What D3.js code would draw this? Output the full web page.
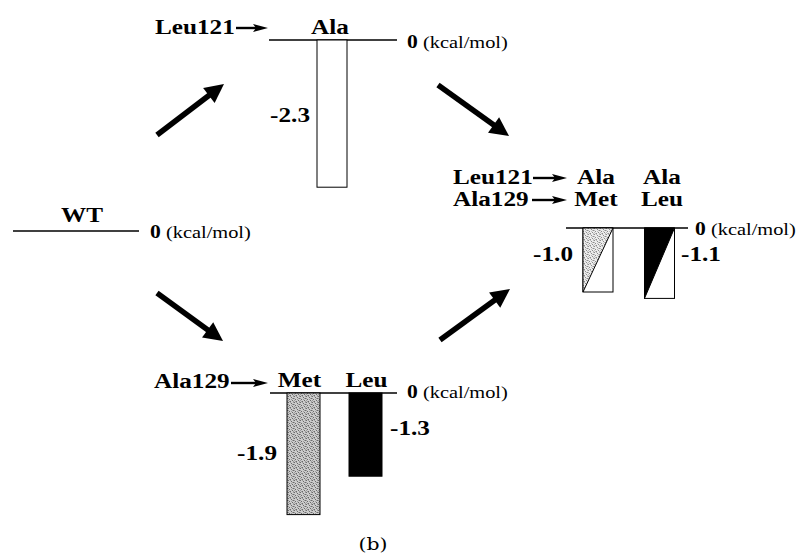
<!DOCTYPE html>
<html><head><meta charset="utf-8">
<script src="https://cdn.jsdelivr.net/npm/d3@7"></script>
<style>
body{margin:0;background:#fff;}
svg{display:block;}
</style></head>
<body>
<svg id="c" width="804" height="556"></svg>
<script>
// ---- data ----
const wtLabel = "WT";
const unitLabel = "(kcal/mol)";
const singleACategories = ["Ala"];          // Leu121 -> Ala
const singleAValues = [-2.3];
const singleBCategories = ["Met", "Leu"];   // Ala129 -> Met / Leu
const singleBValues = [-1.9, -1.3];
const doubleTop = ["Ala", "Ala"];           // Leu121 -> Ala
const doubleBottom = ["Met", "Leu"];        // Ala129 -> Met / Leu
const doubleValues = [-1.0, -1.1];
const caption = "(b)";

const SERIF = "Liberation Serif, Times New Roman, serif";
const SX = 1.2;      // horizontal stretch of the original typesetting
const LBL = 21;      // bold label size
const UNIT = 17;     // unit text size

const svg = d3.select("#c");
const defs = svg.append("defs");
const fmt = d3.formatLocale({decimal: ".", thousands: ",", grouping: [3], currency: ["", ""], minus: "-"}).format(".1f");

// stipple patterns (irregular dots)
function stipple(id, bg, dark, mid) {
  const n = 6;
  const p = defs.append("pattern").attr("id", id).attr("patternUnits", "userSpaceOnUse")
    .attr("width", n).attr("height", n);
  p.append("rect").attr("width", n).attr("height", n).attr("fill", bg);
  const darkPts = [[0,0],[3,1],[1,3],[4,4],[5,2],[2,5]];
  const midPts = [[2,0],[5,0],[0,2],[3,3],[1,5],[4,2],[0,4],[5,5]];
  darkPts.forEach(([x,y]) => p.append("rect").attr("x",x).attr("y",y).attr("width",1).attr("height",1).attr("fill",dark));
  midPts.forEach(([x,y]) => p.append("rect").attr("x",x).attr("y",y).attr("width",1).attr("height",1).attr("fill",mid));
}
stipple("stipDark", "#cccccc", "#6a6a6a", "#9c9c9c");
stipple("stipLight", "#ececec", "#8c8c8c", "#bdbdbd");

// common value scale (kcal/mol -> pixel depth below baseline)
const depth = d3.scaleLinear().domain([0, -1]).range([0, 64]);

function label(x, y, str, opts = {}) {
  return svg.append("text")
    .attr("transform", `translate(${x},${y}) scale(${SX},1)`)
    .attr("font-family", opts.family || SERIF)
    .attr("font-size", opts.size || LBL)
    .attr("font-weight", opts.weight || "bold")
    .attr("text-anchor", opts.anchor || "start")
    .attr("fill", "#000")
    .text(str);
}
function baseline(x1, x2, y) {
  svg.append("line").attr("x1", x1).attr("x2", x2).attr("y1", y).attr("y2", y)
    .attr("stroke", "#000").attr("stroke-width", 1.6);
}
function zeroLabel(x, y) {
  const t = svg.append("text").attr("transform", `translate(${x},${y}) scale(${SX},1)`)
    .attr("font-family", SERIF);
  t.append("tspan").attr("font-weight", "bold").attr("font-size", UNIT + 1).text("0");
  t.append("tspan").attr("font-size", UNIT).text(" " + unitLabel);
}
function smallArrow(x1, x2, y) {
  svg.append("line").attr("x1", x1).attr("x2", x2 - 8).attr("y1", y).attr("y2", y)
    .attr("stroke", "#000").attr("stroke-width", 2.4);
  svg.append("path").attr("d", `M${x2},${y} L${x2-15},${y-4} L${x2-12},${y} L${x2-15},${y+4} Z`).attr("fill", "#000");
}
function bigArrow(x1, y1, x2, y2) {
  const ang = Math.atan2(y2 - y1, x2 - x1);
  const hl = 19, hw = 9.5;
  const bx = x2 - hl * Math.cos(ang), by = y2 - hl * Math.sin(ang);
  svg.append("line").attr("x1", x1).attr("y1", y1).attr("x2", bx + 2*Math.cos(ang)).attr("y2", by + 2*Math.sin(ang))
    .attr("stroke", "#000").attr("stroke-width", 5.5);
  const px = -Math.sin(ang), py = Math.cos(ang);
  svg.append("path").attr("d",
    `M${x2},${y2} L${bx + px*hw},${by + py*hw} L${bx - px*hw},${by - py*hw} Z`).attr("fill", "#000");
}

// ---- WT ----
baseline(13, 139, 231);
label(82, 222, wtLabel, {anchor: "middle"});
zeroLabel(150, 238);

// ---- single mutant Leu121 -> Ala (top) ----
{
  const y0 = 40;
  const x = d3.scalePoint().domain(singleACategories).range([332, 332]);
  baseline(269, 397, y0);
  label(155, 34, "Leu121");
  smallArrow(236, 268, 28);
  svg.selectAll(".barA").data(singleACategories).join("rect")
    .attr("x", d => x(d) - 15).attr("y", y0).attr("width", 30)
    .attr("height", (d, i) => depth(singleAValues[i]))
    .attr("fill", "#fff").attr("stroke", "#000").attr("stroke-width", 1);
  singleACategories.forEach(d => label(x(d) - 2, 34, d, {anchor: "middle"}));
  label(310, 122, fmt(singleAValues[0]), {anchor: "end"});
  zeroLabel(407, 48);
}

// ---- single mutant Ala129 -> Met/Leu (bottom) ----
{
  const y0 = 393;
  const x = d3.scalePoint().domain(singleBCategories).range([303.5, 365.5]);
  baseline(270, 397, y0);
  label(154, 388, "Ala129");
  smallArrow(231, 268, 383);
  const fills = ["url(#stipDark)", "#000"];
  svg.selectAll(".barB").data(singleBCategories).join("rect")
    .attr("x", d => x(d) - 16.5).attr("y", y0).attr("width", 33)
    .attr("height", (d, i) => depth(singleBValues[i]))
    .attr("fill", (d, i) => fills[i]).attr("stroke", "#000").attr("stroke-width", 1);
  singleBCategories.forEach((d, i) => label(x(d) + (i === 0 ? -4 : 1), 387, d, {anchor: "middle"}));
  label(277, 460, fmt(singleBValues[0]), {anchor: "end"});
  label(390, 435, fmt(singleBValues[1]));
  zeroLabel(407, 398);
}

// ---- double mutants (right) ----
{
  const y0 = 228;
  const x = d3.scalePoint().domain([0, 1]).range([598, 659.5]);
  baseline(566, 688, y0);
  label(453, 184, "Leu121");
  smallArrow(533, 567, 178);
  label(453, 206, "Ala129");
  smallArrow(532, 567, 200);
  const fills = ["url(#stipLight)", "#000"];
  const g = svg.selectAll(".barD").data(doubleValues).join("g");
  g.append("rect")
    .attr("x", (d, i) => x(i) - 15).attr("y", y0).attr("width", 30)
    .attr("height", d => depth(d)).attr("fill", "#fff").attr("stroke", "#000").attr("stroke-width", 1);
  g.append("path")
    .attr("d", (d, i) => {
      const l = x(i) - 15, r = x(i) + 15, b = y0 + depth(d);
      return `M${l},${y0} L${r},${y0} L${l},${b} Z`;
    })
    .attr("fill", (d, i) => fills[i]).attr("stroke", "#000").attr("stroke-width", 1);
  doubleTop.forEach((d, i) => label(x(i) + (i === 0 ? -2 : 2.5), 184, d, {anchor: "middle"}));
  doubleBottom.forEach((d, i) => label(x(i) + (i === 0 ? -2 : 2.5), 206, d, {anchor: "middle"}));
  label(573, 261, fmt(doubleValues[0]), {anchor: "end"});
  label(681, 261, fmt(doubleValues[1]));
  zeroLabel(695, 235);
}

// ---- big arrows ----
bigArrow(157, 135, 224, 84);
bigArrow(438, 85, 509, 136);
bigArrow(157, 293, 223, 341);
bigArrow(440, 340, 510, 289);

// caption
label(373, 550, caption, {anchor: "middle", weight: "normal", size: 17, family: "DejaVu Serif, serif"});
</script>
</body></html>
